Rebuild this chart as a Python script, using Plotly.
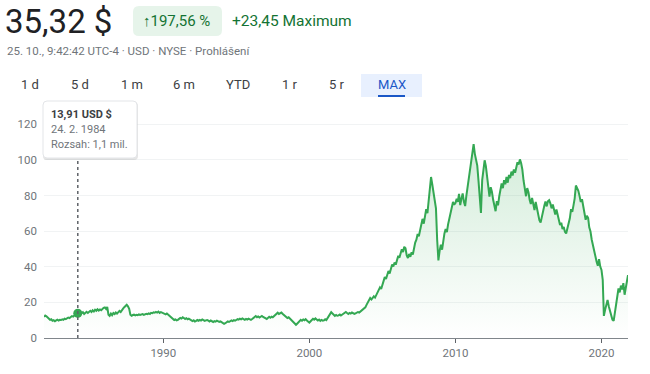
import pandas as pd
import plotly.graph_objects as go

# ---------------- data ----------------
start_month = "1981-11-01"
last_date = "2021-10-25"

prices_1981_1989 = [
    11.87, 12.6,
    12.2, 11.4, 10.9, 10.2, 10.5, 9.7, 10.0, 9.4, 9.9, 10.3, 9.8, 10.2,
    10.1, 10.5, 10.2, 10.9, 10.6, 11.1, 11.5, 11.2, 11.9, 12.3, 12.0, 12.7,
    13.2, 13.91, 14.8, 13.8, 13.3, 14.0, 14.5, 13.5, 13.9, 14.7, 14.1, 14.9,
    15.3, 14.6, 15.6, 14.9, 15.9, 15.3, 16.1, 15.4, 16.0, 15.6, 16.4, 16.9,
    17.2, 16.3, 17.4, 13.1, 12.4, 13.7, 12.8, 14.0, 13.4, 14.3, 13.7, 14.6,
    15.2, 14.6, 15.9, 16.5, 17.3, 18.0, 18.7, 17.8, 16.4, 13.1, 12.5, 12.9,
    13.1, 12.7, 13.0, 12.8, 13.2, 12.9, 13.1, 13.4, 13.0, 13.3, 13.6, 13.4,
    13.8, 13.5, 14.1, 13.9, 14.4, 14.2, 14.7, 14.3, 14.8, 14.1, 14.5, 14.2,
]
prices_1990_1999 = [
    14.0, 13.6, 13.3, 13.8, 13.1, 12.6, 12.2, 11.4, 10.6, 10.1, 10.4, 9.9,
    10.2, 10.8, 11.3, 10.9, 11.6, 11.2, 10.7, 11.1, 10.5, 10.9, 10.3, 9.8,
    9.5, 9.9, 9.2, 9.6, 10.1, 9.7, 10.2, 9.8, 10.4, 10.0, 9.6, 9.9,
    10.1, 9.7, 9.3, 9.8, 9.4, 9.0, 9.5, 9.2, 9.7, 9.4, 9.0, 9.3,
    8.8, 8.4, 7.9, 8.3, 8.8, 9.3, 9.0, 9.6, 9.9, 9.5, 10.0, 9.7,
    10.2, 10.6, 10.3, 10.8, 10.5, 11.0, 10.6, 10.2, 10.7, 10.4, 10.9, 10.5,
    10.2, 10.7, 11.2, 11.8, 12.3, 11.7, 12.1, 11.5, 11.9, 12.4, 11.8, 11.3,
    11.0, 10.7, 11.3, 11.9, 11.4, 12.0, 11.6, 12.4, 13.0, 13.8, 14.2, 13.5,
    13.9, 14.3, 13.6, 12.9, 12.4, 11.8, 11.2, 11.6, 10.9, 10.3, 9.5, 9.0,
    8.2, 7.4, 8.0, 8.8, 9.6, 10.2, 9.7, 10.4, 10.0, 10.6, 9.8, 9.2,
]
prices_2000_2009 = [
    8.6, 9.4, 10.2, 10.8, 10.3, 11.0, 10.4, 9.8, 10.3, 9.6, 10.1, 9.7,
    9.9, 10.5, 10.1, 11.2, 12.0, 13.6, 14.5, 13.8, 12.9, 12.4, 12.9, 12.5,
    12.7, 13.2, 12.6, 13.1, 13.6, 14.2, 14.6, 14.0, 13.5, 14.1, 13.7, 14.3,
    13.9, 13.5, 13.8, 14.2, 14.6, 14.3, 14.9, 15.5, 16.1, 16.4, 17.2, 18.6,
    20.1, 21.0, 22.4, 21.6, 22.8, 23.4, 22.7, 24.1, 25.6, 26.8, 28.4, 27.5,
    29.6, 31.8, 34.2, 33.1, 35.8, 37.6, 36.2, 38.9, 41.3, 40.1, 42.4, 41.2,
    43.8, 46.2, 45.1, 47.6, 49.8, 48.3, 51.2, 50.4, 46.3, 44.9, 47.2, 45.6,
    48.1, 46.9, 50.4, 53.6, 55.2, 58.4, 57.1, 60.8, 63.5, 66.9, 64.2, 68.7,
    72.4, 70.1, 78.3, 84.6, 90.4, 86.2, 82.1, 79.5, 72.8, 55.2, 43.6, 48.8,
    52.4, 49.6, 54.3, 58.7, 61.2, 59.4, 63.8, 67.2, 70.6, 73.1, 76.4, 74.8,
]
prices_2010_2021 = [
    75.8, 78.2, 76.4, 80.9, 74.6, 78.3, 81.2, 76.5, 74.1, 79.8, 84.6, 88.7,
    92.4, 98.3, 101.6, 108.9, 103.4, 99.1, 96.8, 88.2, 76.4, 70.2, 88.6, 95.7,
    99.8, 96.5, 90.3, 86.8, 79.4, 84.7, 82.1, 77.6, 74.3, 71.2, 76.8, 74.5,
    79.6, 83.4, 86.8, 84.1, 88.6, 86.3, 90.4, 87.2, 91.6, 89.8, 93.4, 91.2,
    94.6, 92.8, 96.2, 98.7, 97.4, 100.3, 98.2, 94.6, 88.3, 82.4, 79.6, 84.2,
    81.8, 77.5, 75.2, 78.6, 74.3, 71.8, 76.4, 72.3, 68.9, 66.2, 64.8, 68.4,
    71.5, 74.2, 76.6, 73.9, 76.8, 77.4, 75.6, 72.8, 74.9, 71.3, 69.4, 72.1,
    69.6, 66.8, 63.4, 64.7, 61.2, 62.4, 59.6, 58.7, 61.3, 63.8, 67.2, 72.4,
    70.8, 74.6, 78.2, 85.6, 84.3, 82.7, 79.8, 76.4, 77.9, 73.2, 69.8, 66.4,
    68.6, 67.4, 62.1, 59.8, 55.3, 51.6, 48.2, 45.1, 42.8, 40.6, 44.2, 40.1,
    38.2, 32.6, 12.4, 15.8, 19.6, 21.4, 17.8, 15.2, 12.1, 10.3, 9.6, 14.8,
    18.6, 22.4, 27.8, 25.6, 29.4, 27.2, 30.8, 24.3, 28.6, 35.32,
]

hover_date = "1984-02-24"
hover_price = 13.91
hover_lines = ["13,91 USD $", "24. 2. 1984", "Rozsah: 1,1 mil."]

price_text = "35,32 $"
change_pct = "↑197,56 %"
change_abs = "+23,45 Maximum"
subtitle = "25. 10., 9:42:42 UTC-4 · USD · NYSE · Prohlášení"
tabs = ["1 d", "5 d", "1 m", "6 m", "YTD", "1 r", "5 r", "MAX"]

y_ticks = [0, 20, 40, 60, 80, 100, 120]
x_ticks = ["1990-01-01", "2000-01-01", "2010-01-01", "2020-01-01"]
x_tick_labels = ["1990", "2000", "2010", "2020"]

prices = prices_1981_1989 + prices_1990_1999 + prices_2000_2009 + prices_2010_2021
dates = list(pd.date_range(start_month, periods=len(prices), freq="MS"))
dates[-1] = pd.Timestamp(last_date)

# ---------------- layout geometry (window pixels; body margin removed) ----------------
WIDTH, HEIGHT = 650, 374
PL, PR, PT, PB = 44, 628, 114, 338   # plot area in window pixels
PW, PH = PR - PL, PB - PT
Y_MAX = PH / 1.781

GREEN = "#34A853"
FONT = "Roboto"


def fx(px):
    return (px - PL) / PW


def fy(py):
    return (PB - py) / PH


def rrect(x0, y0, x1, y1, r):
    pts = [
        f"M {fx(x0 + r)} {fy(y0)}",
        f"L {fx(x1 - r)} {fy(y0)}",
        f"Q {fx(x1)} {fy(y0)} {fx(x1)} {fy(y0 + r)}",
        f"L {fx(x1)} {fy(y1 - r)}",
        f"Q {fx(x1)} {fy(y1)} {fx(x1 - r)} {fy(y1)}",
        f"L {fx(x0 + r)} {fy(y1)}",
        f"Q {fx(x0)} {fy(y1)} {fx(x0)} {fy(y1 - r)}",
        f"L {fx(x0)} {fy(y0 + r)}",
        f"Q {fx(x0)} {fy(y0)} {fx(x0 + r)} {fy(y0)}",
        "Z",
    ]
    return " ".join(pts)


fig = go.Figure()
fig.add_trace(go.Scatter(
    x=dates, y=prices, mode="lines",
    line=dict(color=GREEN, width=2),
    fill="tozeroy",
    fillgradient=dict(
        type="vertical",
        colorscale=[[0, "rgba(52,168,83,0.0)"], [1, "rgba(52,168,83,0.22)"]],
        start=0, stop=110,
    ),
    hoverinfo="skip", showlegend=False,
))
fig.add_trace(go.Scatter(
    x=[hover_date], y=[hover_price], mode="markers",
    marker=dict(color=GREEN, size=9),
    hoverinfo="skip", showlegend=False,
))

shapes = []
shapes.append(dict(type="line", xref="x", yref="paper", x0=hover_date, x1=hover_date,
                   y0=0, y1=fy(158), line=dict(color="#5f6368", width=1.5, dash="dot"),
                   layer="above"))
shapes.append(dict(type="path", xref="paper", yref="paper", path=rrect(43, 102, 138, 160, 4),
                   fillcolor="rgba(0,0,0,0.10)", line=dict(width=0), layer="above"))
shapes.append(dict(type="path", xref="paper", yref="paper", path=rrect(43, 101, 137, 158, 4),
                   fillcolor="white", line=dict(color="#e3e5e8", width=1), layer="above"))
shapes.append(dict(type="path", xref="paper", yref="paper", path=rrect(133, 6, 222, 36, 6),
                   fillcolor="#e6f4ea", line=dict(width=0)))
shapes.append(dict(type="rect", xref="paper", yref="paper", x0=fx(361), x1=fx(422),
                   y0=fy(97), y1=fy(74), fillcolor="#e8f0fe", line=dict(width=0)))
shapes.append(dict(type="rect", xref="paper", yref="paper", x0=fx(378), x1=fx(405),
                   y0=fy(97), y1=fy(95), fillcolor="#1a57c7", line=dict(width=0)))

ann = []


def text(s, x, y, size, color, xanchor="left", bold=False, pad=1):
    ann.append(dict(text=f"<b>{s}</b>" if bold else s, x=fx(x), y=fy(y), xref="paper", yref="paper",
                    xanchor=xanchor, yanchor="middle", showarrow=False, borderpad=pad,
                    font=dict(family=FONT, size=size, color=color)))


text(price_text, 3, 22, 33, "#202124")
text(change_pct, 141, 21, 15, "#137333")
text(change_abs, 230, 21, 15.5, "#137333")
text(subtitle, 5, 51, 11.5, "#70757a")

tab_x = [30, 80, 132, 184, 238, 290, 337, 392]
for t, x in zip(tabs, tab_x):
    text(t, x, 85, 13, "#1a57c7" if t == "MAX" else "#3c4043", xanchor="center")

text(hover_lines[0], 49, 114, 11, "#3c4043", bold=True)
text(hover_lines[1], 49, 129.5, 11, "#70757a")
text(hover_lines[2], 49, 144.5, 11, "#70757a")

fig.update_layout(
    width=WIDTH, height=HEIGHT,
    margin=dict(l=PL, r=WIDTH - PR, t=PT, b=HEIGHT - PB, pad=0),
    paper_bgcolor="white", plot_bgcolor="white",
    font=dict(family=FONT, color="#70757a", size=11.5),
    shapes=shapes, annotations=ann,
    xaxis=dict(
        range=[start_month, last_date], tickvals=x_ticks, ticktext=x_tick_labels,
        showgrid=False, showline=True, linecolor="#80868b", linewidth=1,
        ticks="outside", ticklen=4, tickcolor="#5f6368", tickwidth=1,
        tickfont=dict(size=11.5, color="#70757a"), zeroline=False, fixedrange=True,
    ),
    yaxis=dict(
        range=[0, Y_MAX], tickvals=y_ticks, showgrid=True, gridcolor="#f1f3f4",
        gridwidth=1, zeroline=False, showline=False, ticks="",
        ticklabelstandoff=6, tickfont=dict(size=11.5, color="#70757a"), fixedrange=True,
    ),
)

fig.write_html(
    "out.html",
    config={"displayModeBar": False},
    post_script="document.body.style.margin='0';document.body.style.overflow='hidden';",
)
